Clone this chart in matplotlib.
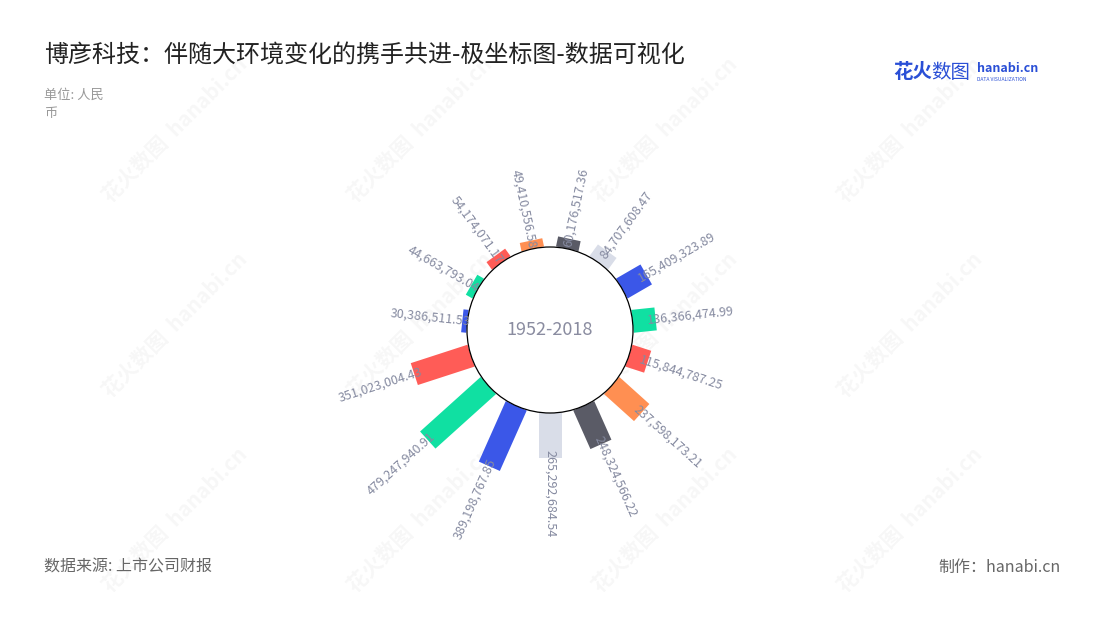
import numpy as np
import matplotlib.pyplot as plt
from matplotlib.patches import Circle
from matplotlib.transforms import Affine2D

plt.rcParams['font.family'] = ['Noto Sans CJK SC', 'DejaVu Sans']

# data, clockwise from the top of the circle
values = [60176517.36, 84707608.47, 165409323.89, 136366474.99, 115844787.25,
          237598173.21, 248324566.22, 265292684.54, 389198767.85, 479247940.91,
          351023004.43, 30386511.53, 44663793.04, 54174071.17, 49410556.58]
colors = ['#5a5b66', '#d9dde8', '#3b57e8', '#10e0a2', '#ff5c57',
          '#ff8f52', '#5a5b66', '#d9dde8', '#3b57e8', '#10e0a2',
          '#ff5c57', '#3b57e8', '#10e0a2', '#ff5c57', '#ff8f52']
center_label = '1952-2018'
title = '博彦科技：伴随大环境变化的携手共进-极坐标图-数据可视化'
unit = '单位: 人民\n币'
source = '数据来源: 上市公司财报'
credit = '制作：hanabi.cn'

# layout (pixels)
W, H = 1100, 620
cx, cy = 550, 330          # polar centre, from top-left
inner_r = 83
radius_max = 500e6         # radius axis max
radius_len = 85            # pixels for radius_max
bar_w = 23
label_col = '#858aa0'

fig = plt.figure(figsize=(W / 100, H / 100), dpi=100)
fig.patch.set_facecolor('white')

# faint watermarks
wm = fig.add_axes([0, 0, 1, 1])
wm.set_xlim(0, W)
wm.set_ylim(H, 0)
wm.axis('off')
for wx in [175, 420, 665, 910]:
    for wy in [130, 325, 520]:
        wm.text(wx, wy, '花火数图  hanabi.cn', rotation=45, ha='center', va='center',
                fontsize=15, fontweight='bold', color='#000000', alpha=0.035)

# polar bars drawn in pixel units around the centre
ax = fig.add_axes([0, 0, 1, 1])
ax.set_xlim(-cx, W - cx)
ax.set_ylim(-(H - cy), cy)
ax.set_aspect('equal')
ax.axis('off')

n = len(values)
step = 360 / n
for i, (v, c) in enumerate(zip(values, colors)):
    ang = step * (i + 0.5)     # degrees clockwise from top
    length = v / radius_max * radius_len
    tr = Affine2D().rotate_deg(-ang) + ax.transData
    ax.bar(0, length, width=bar_w, bottom=inner_r, color=c, transform=tr, zorder=2)
    # label along the radius
    r_lab = inner_r + length - 8
    lx = r_lab * np.sin(np.radians(ang))
    ly = r_lab * np.cos(np.radians(ang))
    if ang <= 180:
        rot, ha = 90 - ang, 'left'
    else:
        rot, ha = 270 - ang, 'right'
    ax.text(lx, ly, f'{v:,.2f}', rotation=rot, rotation_mode='anchor',
            ha=ha, va='center', fontsize=9, color=label_col, zorder=4)

ax.add_patch(Circle((0, 0), inner_r, facecolor='white', edgecolor='black',
                    linewidth=0.9, zorder=3))
ax.text(0, 0, center_label, ha='center', va='center', fontsize=13,
        color='#8a8ca0', zorder=4)

# titles and notes
fig.text(44 / W, 1 - 55 / H, title, fontsize=17.3, color='#222222', va='center')
fig.text(44 / W, 1 - 104 / H, unit, fontsize=9.5, color='#999999', va='center',
         linespacing=1.5)
fig.text(44 / W, 1 - 567 / H, source, fontsize=11.5, color='#666666', va='center')
fig.text(1061 / W, 1 - 567 / H, credit, fontsize=11.5, color='#666666', va='center',
         ha='right')

# logo
fig.text(893 / W, 1 - 72 / H, '花火', fontsize=14, fontweight='bold',
         color='#2a4fd6', va='center')
fig.text(931 / W, 1 - 72 / H, '数图', fontsize=14, color='#2a4fd6', va='center')
fig.text(977 / W, 1 - 69 / H, 'hanabi.cn', fontsize=9, fontweight='bold',
         color='#2a4fd6', va='center')
fig.text(977 / W, 1 - 79.5 / H, 'DATA VISUALIZATION', fontsize=3.6,
         color='#2a4fd6', va='center')

fig.savefig('out.png', dpi=100, facecolor='white')
